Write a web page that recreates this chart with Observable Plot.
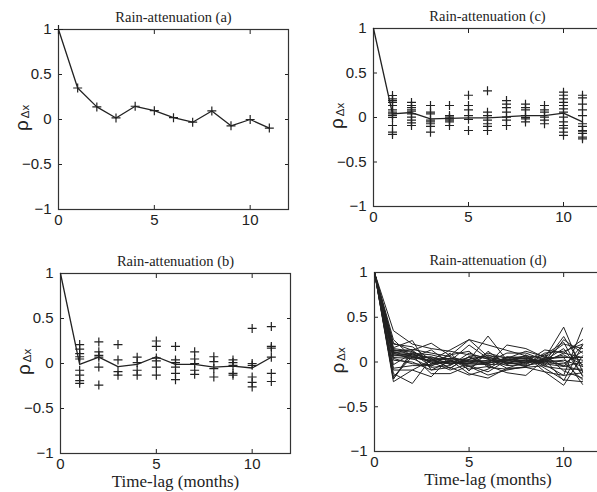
<!DOCTYPE html>
<html><head><meta charset="utf-8">
<script src="https://cdn.jsdelivr.net/npm/d3@7"></script>
<script src="https://cdn.jsdelivr.net/npm/@observablehq/plot@0.6"></script>
<style>
body{margin:0;background:#fff;}
#root{position:relative;width:597px;height:492px;overflow:hidden;background:#fff;}
#root > svg{position:absolute;}
</style></head><body><div id="root"></div>
<script>
const lags = [0,1,2,3,4,5,6,7,8,9,10,11];
const xTicks = [0,5,10];
const yTicks = [-1,-0.5,0,0.5,1];
const titles = ["Rain-attenuation (a)","Rain-attenuation (b)","Rain-attenuation (c)","Rain-attenuation (d)"];
const xTitle = "Time-lag (months)";

// (a) single series
const meanA = [1, 0.35, 0.14, 0.017, 0.147, 0.098, 0.02, -0.03, 0.095, -0.07, 0.0, -0.095];

// (b) mean and scatter (index 0 = lag 1)
const meanB = [1, -0.01, 0.07, -0.035, -0.01, 0.075, -0.01, -0.01, -0.04, -0.03, -0.05, 0.07];
const scatterB = [
  [0.21, 0.16, 0.11, 0.075, 0.05, -0.075, -0.13, -0.19, -0.22],
  [0.24, 0.13, 0.09, 0.07, -0.04, -0.24],
  [0.21, 0.04, -0.09, -0.13],
  [0.07, 0.01, -0.075, -0.13],
  [0.25, 0.19, 0.06, 0.03, -0.04, -0.13],
  [0.19, 0.04, 0.01, -0.04, -0.11, -0.18],
  [0.13, 0.05, 0.0, -0.075, -0.12],
  [0.075, 0.02, -0.056, -0.15],
  [0.04, 0.01, -0.02, -0.11, -0.13],
  [0.39, 0.0, -0.02, -0.15, -0.21, -0.26],
  [0.41, 0.19, 0.17, 0.07, -0.11, -0.2]
];

// (c) mean and scatter (index 0 = lag 1)
const meanC = [1, 0.04, 0.056, -0.015, -0.01, -0.005, -0.005, 0.008, 0.02, 0.02, 0.05, -0.05];
const scatterC = [
  [0.247, 0.21, 0.19, 0.17, 0.135, 0.086, 0.06, 0.04, 0.022, 0.0, -0.09, -0.165, -0.19],
  [0.17, 0.135, 0.11, 0.086, 0.07, 0.04, 0.004, -0.03, -0.06, -0.09],
  [0.135, 0.06, 0.04, -0.03, -0.05, -0.07, -0.1, -0.165],
  [0.135, 0.022, 0.004, -0.015, -0.03, -0.05, -0.09],
  [0.25, 0.135, 0.086, 0.022, -0.02, -0.146],
  [0.3, 0.06, 0.022, -0.03, -0.07, -0.1, -0.146],
  [0.19, 0.15, 0.11, 0.06, 0.004, -0.03, -0.09],
  [0.15, 0.11, 0.086, 0.022, 0.0, -0.015, -0.05],
  [0.135, 0.086, 0.06, 0.004, -0.03, -0.07],
  [0.285, 0.25, 0.21, 0.17, 0.135, 0.097, 0.06, 0.004, -0.05, -0.09, -0.12, -0.165, -0.2],
  [0.25, 0.22, 0.15, 0.086, 0.022, -0.07, -0.1, -0.146, -0.16, -0.18, -0.22, -0.24]
];

// (d) individual series, lags 0..11
const seriesD = [
  [1, 0.35, 0.20, 0.15, 0.12, 0.08, 0.05, 0.02, 0.05, 0.00, 0.10, 0.05],
  [1, 0.21, 0.13, 0.21, 0.07, 0.25, 0.19, 0.13, 0.07, 0.04, 0.39, -0.11],
  [1, 0.16, 0.24, -0.09, 0.01, 0.19, 0.04, -0.07, -0.06, -0.11, -0.15, 0.38],
  [1, 0.11, 0.09, 0.04, -0.07, 0.06, -0.04, -0.12, -0.15, 0.03, -0.21, 0.19],
  [1, 0.07, 0.07, -0.13, -0.13, -0.04, -0.11, 0.02, 0.07, -0.11, -0.26, 0.07],
  [1, -0.07, -0.04, -0.04, 0.02, -0.13, -0.18, -0.07, 0.0, 0.02, 0.0, -0.20],
  [1, -0.13, -0.24, 0.04, -0.07, 0.06, 0.04, 0.00, -0.05, 0.05, 0.05, 0.05],
  [1, -0.19, 0.13, -0.02, 0.01, -0.02, -0.02, 0.05, 0.03, -0.02, -0.05, 0.19],
  [1, -0.22, -0.09, 0.02, 0.04, 0.0, 0.0, 0.0, -0.04, 0.0, 0.02, -0.05],
  [1, 0.25, 0.05, 0.135, -0.02, 0.02, 0.29, 0.02, 0.04, 0.0, 0.285, -0.05],
  [1, 0.20, 0.17, 0.02, 0.135, 0.25, 0.06, -0.02, 0.0, 0.135, 0.10, 0.25],
  [1, 0.15, 0.12, -0.02, 0.0, 0.05, -0.02, 0.19, 0.15, 0.05, 0.20, 0.15],
  [1, 0.09, 0.08, 0.05, 0.02, -0.05, 0.0, 0.10, 0.10, 0.02, 0.15, -0.15],
  [1, 0.05, 0.04, -0.06, -0.04, 0.10, 0.03, -0.04, -0.03, 0.08, -0.10, -0.18],
  [1, 0.02, 0.0, -0.09, -0.06, -0.146, -0.08, 0.05, 0.06, -0.07, -0.20, -0.22],
  [1, -0.09, -0.09, -0.165, 0.05, -0.05, -0.146, -0.09, -0.05, 0.04, 0.05, -0.25],
  [1, -0.165, 0.06, 0.0, -0.09, -0.02, 0.08, 0.0, 0.02, -0.03, -0.15, -0.12],
  [1, -0.19, 0.10, 0.08, 0.03, -0.08, -0.05, 0.06, 0.04, 0.08, 0.22, -0.16],
  [1, 0.12, 0.14, 0.10, 0.06, 0.0, 0.10, 0.04, 0.12, 0.06, -0.05, 0.0],
  [1, 0.04, -0.02, -0.03, 0.08, 0.12, -0.06, -0.08, -0.06, -0.04, 0.25, 0.10],
  [1, 0.10, 0.03, 0.06, -0.03, 0.03, 0.07, 0.05, -0.02, 0.10, 0.12, 0.20],
  [1, -0.03, 0.10, -0.05, 0.10, -0.10, 0.12, -0.03, 0.08, -0.05, -0.08, -0.08],
  [1, 0.13, 0.11, 0.03, 0.04, 0.02, 0.01, 0.03, 0.01, 0.03, 0.06, 0.02],
  [1, 0.08, 0.05, 0.01, -0.01, -0.02, -0.03, -0.02, -0.01, 0.01, -0.04, -0.10],
  [1, 0.14, 0.08, 0.0, -0.02, 0.01, -0.01, 0.02, 0.0, 0.02, 0.08, -0.03],
  [1, 0.11, 0.06, 0.02, 0.0, -0.01, 0.02, -0.01, 0.02, -0.01, -0.02, 0.12]
];

const SANS = "Liberation Sans, Arial, Helvetica, sans-serif";
const SERIF = "Liberation Serif, Times New Roman, serif";
const INK = "#222";
const fmt = d3.format("~g");

function scatterRows(scatter) {
  return scatter.flatMap((vals, i) => vals.map(v => ({lag: lags[i + 1], v})));
}
function lineRows(vals) { return vals.map((v, i) => ({lag: lags[i], v})); }

function panel({title, left, top, width, height, margin, marks, xLabel}) {
  const [mt, mr, mb, ml] = margin;
  const base = [
    Plot.axisX({ticks: xTicks, tickSize: -4, tickPadding: 9, tickFormat: fmt, stroke: INK, fill: INK, label: null}),
    Plot.axisX({anchor: "top", ticks: xTicks, tickSize: -4, tickFormat: () => "", stroke: INK, label: null}),
    Plot.axisY({ticks: yTicks, tickSize: -4, tickPadding: 11, tickFormat: fmt, stroke: INK, fill: INK, label: null}),
    Plot.axisY({anchor: "right", ticks: yTicks, tickSize: -4, tickFormat: () => "", stroke: INK, label: null}),
    Plot.frame({stroke: "#333", strokeWidth: 1.2}),
    Plot.text([title], {frameAnchor: "top", lineAnchor: "middle", textAnchor: "middle", dy: -12, fontFamily: SERIF, fontSize: 14.5, fill: INK, text: d => d}),
    Plot.text(["ρ"], {frameAnchor: "left", lineAnchor: "middle", textAnchor: "middle", rotate: -90, dx: -37, dy: 6, fontFamily: SANS, fontSize: 19, fill: INK, text: d => d}),
    Plot.text(["Δx"], {frameAnchor: "left", lineAnchor: "middle", textAnchor: "middle", rotate: -90, dx: -33, dy: -8, fontFamily: SANS, fontSize: 11.5, fill: INK, text: d => d})
  ];
  if (xLabel) base.push(Plot.text([xLabel], {frameAnchor: "bottom", lineAnchor: "middle", textAnchor: "middle", dy: 28, fontFamily: SERIF, fontSize: 17, fill: INK, text: d => d}));
  const svg = Plot.plot({
    width, height,
    marginTop: mt, marginRight: mr, marginBottom: mb, marginLeft: ml,
    style: {fontFamily: SANS, fontSize: "15px", color: INK, background: "transparent", overflow: "visible"},
    x: {domain: [0, 12]},
    y: {domain: [-1, 1]},
    marks: [...base, ...marks]
  });
  svg.style.left = left + "px";
  svg.style.top = top + "px";
  document.getElementById("root").appendChild(svg);
}

const rowsA = lineRows(meanA);
panel({title: titles[0], left: 0, top: 0, width: 300, height: 240, margin: [29, 12, 31, 58], marks: [
  Plot.line(rowsA, {x: "lag", y: "v", stroke: INK, strokeWidth: 1.3}),
  Plot.dot(rowsA, {x: "lag", y: "v", symbol: "plus", r: 3, stroke: INK, strokeWidth: 1.2})
]});

panel({title: titles[2], left: 300, top: 0, width: 310, height: 240, margin: [28, 9, 34, 73], marks: [
  Plot.line(lineRows(meanC), {x: "lag", y: "v", stroke: INK, strokeWidth: 1.3}),
  Plot.dot(scatterRows(scatterC), {x: "lag", y: "v", symbol: "plus", r: 3, stroke: INK, strokeWidth: 1.2})
]});

panel({title: titles[1], left: 0, top: 240, width: 300, height: 252, margin: [33, 10, 39, 60], xLabel: xTitle, marks: [
  Plot.line(lineRows(meanB), {x: "lag", y: "v", stroke: INK, strokeWidth: 1.3}),
  Plot.dot(scatterRows(scatterB), {x: "lag", y: "v", symbol: "plus", r: 3, stroke: INK, strokeWidth: 1.2})
]});

const rowsD = seriesD.flatMap((s, k) => s.map((v, i) => ({lag: lags[i], v, k})));
panel({title: titles[3], left: 300, top: 240, width: 310, height: 252, margin: [32, 9, 41, 74], xLabel: xTitle, marks: [
  Plot.line(rowsD, {x: "lag", y: "v", z: "k", stroke: INK, strokeWidth: 1})
]});
</script>
</body></html>
